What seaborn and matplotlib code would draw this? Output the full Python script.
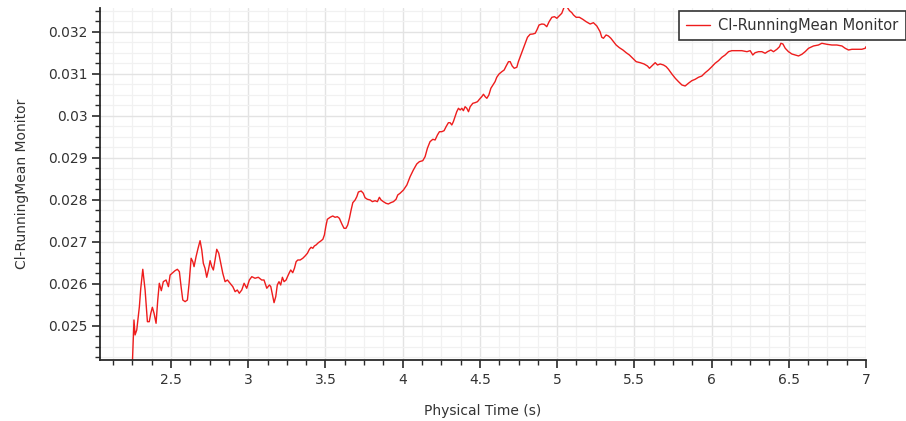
import matplotlib
matplotlib.use("Agg")
import matplotlib.pyplot as plt
from matplotlib.lines import Line2D
from matplotlib.ticker import MultipleLocator, FuncFormatter
import seaborn as sns
import pandas as pd

SERIES = "Cl-RunningMean Monitor"
X_LABEL = "Physical Time (s)"
Y_LABEL = "Cl-RunningMean Monitor"

# Physical time (s) of each monitor sample
time_s = [
    2.249, 2.260, 2.267, 2.278, 2.295, 2.304, 2.317, 2.332, 2.347, 2.359,
    2.369, 2.379, 2.390, 2.403, 2.414, 2.424, 2.437, 2.450, 2.468, 2.483,
    2.494, 2.511, 2.526, 2.541, 2.554, 2.565, 2.576, 2.591, 2.606, 2.617,
    2.630, 2.641, 2.649, 2.662, 2.675, 2.688, 2.699, 2.709, 2.720, 2.731,
    2.742, 2.753, 2.764, 2.774, 2.785, 2.796, 2.809, 2.822, 2.835, 2.850,
    2.865, 2.882, 2.900, 2.915, 2.929, 2.942, 2.958, 2.973, 2.990, 3.007,
    3.023, 3.044, 3.065, 3.087, 3.102, 3.120, 3.137, 3.146, 3.159, 3.167,
    3.178, 3.188, 3.199, 3.210, 3.221, 3.232, 3.245, 3.256, 3.266, 3.275,
    3.288, 3.299, 3.310, 3.321, 3.336, 3.353, 3.368, 3.383, 3.396, 3.407,
    3.418, 3.428, 3.439, 3.454, 3.470, 3.483, 3.493, 3.502, 3.512, 3.530,
    3.547, 3.562, 3.577, 3.590, 3.606, 3.620, 3.633, 3.644, 3.655, 3.666,
    3.677, 3.692, 3.703, 3.713, 3.731, 3.745, 3.756, 3.771, 3.789, 3.804,
    3.821, 3.836, 3.849, 3.860, 3.875, 3.892, 3.907, 3.923, 3.940, 3.957,
    3.968, 3.983, 4.005, 4.027, 4.048, 4.069, 4.091, 4.108, 4.130, 4.145,
    4.160, 4.177, 4.195, 4.210, 4.225, 4.238, 4.253, 4.268, 4.281, 4.296,
    4.307, 4.318, 4.328, 4.339, 4.350, 4.361, 4.372, 4.383, 4.393, 4.404,
    4.415, 4.426, 4.437, 4.454, 4.469, 4.484, 4.497, 4.512, 4.523, 4.534,
    4.545, 4.558, 4.571, 4.584, 4.598, 4.609, 4.624, 4.642, 4.657, 4.670,
    4.685, 4.696, 4.709, 4.722, 4.739, 4.749, 4.765, 4.778, 4.793, 4.808,
    4.825, 4.843, 4.858, 4.869, 4.883, 4.901, 4.916, 4.933, 4.948, 4.966,
    4.983, 4.998, 5.013, 5.030, 5.045, 5.063, 5.080, 5.095, 5.106, 5.123,
    5.144, 5.166, 5.188, 5.214, 5.235, 5.257, 5.278, 5.289, 5.300, 5.317,
    5.332, 5.348, 5.365, 5.382, 5.403, 5.426, 5.447, 5.468, 5.490, 5.512,
    5.538, 5.563, 5.585, 5.598, 5.613, 5.635, 5.650, 5.667, 5.689, 5.706,
    5.721, 5.743, 5.765, 5.786, 5.808, 5.829, 5.850, 5.872, 5.894, 5.915,
    5.937, 5.959, 5.980, 6.002, 6.023, 6.045, 6.067, 6.088, 6.110, 6.131,
    6.164, 6.196, 6.229, 6.250, 6.267, 6.282, 6.304, 6.326, 6.347, 6.362,
    6.384, 6.401, 6.423, 6.440, 6.449, 6.462, 6.477, 6.498, 6.520, 6.541,
    6.563, 6.585, 6.606, 6.628, 6.660, 6.692, 6.714, 6.747, 6.779, 6.811,
    6.844, 6.865, 6.887, 6.909, 6.941, 6.973, 6.995, 7.000,
]

# Running mean of the lift coefficient at each sample
cl_running_mean = [
    0.024050, 0.025143, 0.024786, 0.024905, 0.025460, 0.025898, 0.026350, 0.025857, 0.025102, 0.025102,
    0.025302, 0.025445, 0.025302, 0.025064, 0.025619, 0.026017, 0.025840, 0.026055, 0.026095, 0.025936,
    0.026214, 0.026269, 0.026317, 0.026350, 0.026293, 0.025936, 0.025619, 0.025579, 0.025619, 0.026017,
    0.026612, 0.026531, 0.026412, 0.026650, 0.026850, 0.027031, 0.026810, 0.026493, 0.026374, 0.026160,
    0.026333, 0.026555, 0.026412, 0.026333, 0.026571, 0.026826, 0.026731, 0.026493, 0.026255, 0.026055,
    0.026095, 0.026017, 0.025936, 0.025817, 0.025857, 0.025779, 0.025857, 0.026017, 0.025898, 0.026095,
    0.026174, 0.026136, 0.026160, 0.026095, 0.026095, 0.025898, 0.025976, 0.025936, 0.025698, 0.025555,
    0.025698, 0.025976, 0.026055, 0.025976, 0.026160, 0.026055, 0.026095, 0.026190, 0.026269, 0.026333,
    0.026269, 0.026374, 0.026531, 0.026571, 0.026571, 0.026612, 0.026667, 0.026731, 0.026826, 0.026874,
    0.026850, 0.026905, 0.026929, 0.026983, 0.027024, 0.027064, 0.027167, 0.027364, 0.027540, 0.027588,
    0.027619, 0.027588, 0.027602, 0.027564, 0.027429, 0.027326, 0.027326, 0.027405, 0.027564, 0.027762,
    0.027936, 0.028000, 0.028079, 0.028190, 0.028214, 0.028160, 0.028055, 0.028017, 0.028000, 0.027960,
    0.027983, 0.027960, 0.028064, 0.028000, 0.027960, 0.027921, 0.027905, 0.027936, 0.027960, 0.028017,
    0.028119, 0.028160, 0.028238, 0.028357, 0.028555, 0.028714, 0.028857, 0.028912, 0.028936, 0.029031,
    0.029231, 0.029388, 0.029445, 0.029429, 0.029548, 0.029626, 0.029626, 0.029650, 0.029745, 0.029840,
    0.029840, 0.029786, 0.029864, 0.029983, 0.030102, 0.030183, 0.030143, 0.030183, 0.030126, 0.030221,
    0.030183, 0.030102, 0.030221, 0.030302, 0.030317, 0.030340, 0.030398, 0.030460, 0.030517, 0.030460,
    0.030421, 0.030500, 0.030660, 0.030738, 0.030817, 0.030921, 0.031000, 0.031055, 0.031095, 0.031190,
    0.031293, 0.031293, 0.031190, 0.031136, 0.031160, 0.031293, 0.031452, 0.031588, 0.031731, 0.031874,
    0.031945, 0.031952, 0.031969, 0.032048, 0.032167, 0.032190, 0.032183, 0.032126, 0.032245, 0.032350,
    0.032364, 0.032326, 0.032381, 0.032445, 0.032588, 0.032602, 0.032507, 0.032460, 0.032405, 0.032350,
    0.032350, 0.032302, 0.032245, 0.032190, 0.032221, 0.032143, 0.032007, 0.031874, 0.031850, 0.031929,
    0.031905, 0.031850, 0.031769, 0.031690, 0.031626, 0.031571, 0.031507, 0.031452, 0.031374, 0.031293,
    0.031269, 0.031238, 0.031190, 0.031136, 0.031190, 0.031269, 0.031214, 0.031238, 0.031214, 0.031174,
    0.031112, 0.031000, 0.030898, 0.030817, 0.030738, 0.030714, 0.030779, 0.030840, 0.030874, 0.030921,
    0.030952, 0.031031, 0.031095, 0.031174, 0.031255, 0.031317, 0.031398, 0.031452, 0.031531, 0.031555,
    0.031555, 0.031555, 0.031531, 0.031555, 0.031452, 0.031507, 0.031531, 0.031531, 0.031493, 0.031531,
    0.031571, 0.031531, 0.031588, 0.031650, 0.031731, 0.031714, 0.031612, 0.031531, 0.031476, 0.031452,
    0.031429, 0.031469, 0.031531, 0.031612, 0.031667, 0.031690, 0.031731, 0.031707, 0.031690, 0.031690,
    0.031667, 0.031612, 0.031571, 0.031588, 0.031588, 0.031588, 0.031612, 0.031650,
]

X_TICKS = [2.5, 3, 3.5, 4, 4.5, 5, 5.5, 6, 6.5, 7]
Y_TICKS = [0.025, 0.026, 0.027, 0.028, 0.029, 0.030, 0.031, 0.032]

df = pd.DataFrame({"time": time_s, "cl": cl_running_mean})

sns.set_theme(style="white")
plt.rcParams["font.family"] = ["DejaVu Sans"]

LINE_COLOR = "#ee1c1c"
TEXT_COLOR = "#333333"
AXIS_COLOR = "#2a2a2a"

fig = plt.figure(figsize=(9.06, 4.21), dpi=100)
ax = fig.add_axes([100 / 906, 1 - 360 / 421, 766 / 906, 352 / 421])

sns.lineplot(data=df, x="time", y="cl", ax=ax, color=LINE_COLOR, lw=1.0,
             sort=False, estimator=None, legend=False)

ax.set_xlim(2.04, 7.0)
ax.set_ylim(0.02419, 0.032571)

ax.set_xticks(X_TICKS)
ax.set_yticks(Y_TICKS)
ax.xaxis.set_minor_locator(MultipleLocator(0.125))
ax.yaxis.set_minor_locator(MultipleLocator(0.00025))
fmt = FuncFormatter(lambda v, p: f"{v:g}")
ax.xaxis.set_major_formatter(fmt)
ax.yaxis.set_major_formatter(fmt)

ax.grid(which="major", color="#e3e3e3", lw=1.0)
ax.grid(which="minor", color="#f1f1f1", lw=0.9)
ax.set_axisbelow(True)

for side in ("top", "right"):
    ax.spines[side].set_visible(False)
for side in ("left", "bottom"):
    ax.spines[side].set_color(AXIS_COLOR)
    ax.spines[side].set_linewidth(1.3)

ax.tick_params(which="major", direction="out", length=6, width=1.2,
               color=AXIS_COLOR, labelsize=10, labelcolor=TEXT_COLOR, pad=3,
               bottom=True, left=True)
ax.tick_params(which="minor", direction="out", length=3.5, width=1.0,
               color=AXIS_COLOR, bottom=True, left=True)

ax.set_xlabel(X_LABEL, fontsize=10, color=TEXT_COLOR)
ax.set_ylabel(Y_LABEL, fontsize=10, color=TEXT_COLOR)
ax.xaxis.set_label_coords(0.5, -0.125)
ax.yaxis.set_label_coords(-0.093, 0.5)

handle = Line2D([], [], color=LINE_COLOR, lw=1.0)
leg = fig.legend([handle], [SERIES], loc="upper right",
                 bbox_to_anchor=(1.0, 1 - 10.7 / 421),
                 bbox_transform=fig.transFigure, frameon=True, fancybox=False,
                 framealpha=1, borderaxespad=0, fontsize=10.5,
                 handlelength=1.65, handletextpad=0.55, borderpad=0.5)
leg.get_frame().set_edgecolor("#333333")
leg.get_frame().set_linewidth(1.2)
for t in leg.get_texts():
    t.set_color(TEXT_COLOR)

fig.savefig("out.png", dpi=100)
